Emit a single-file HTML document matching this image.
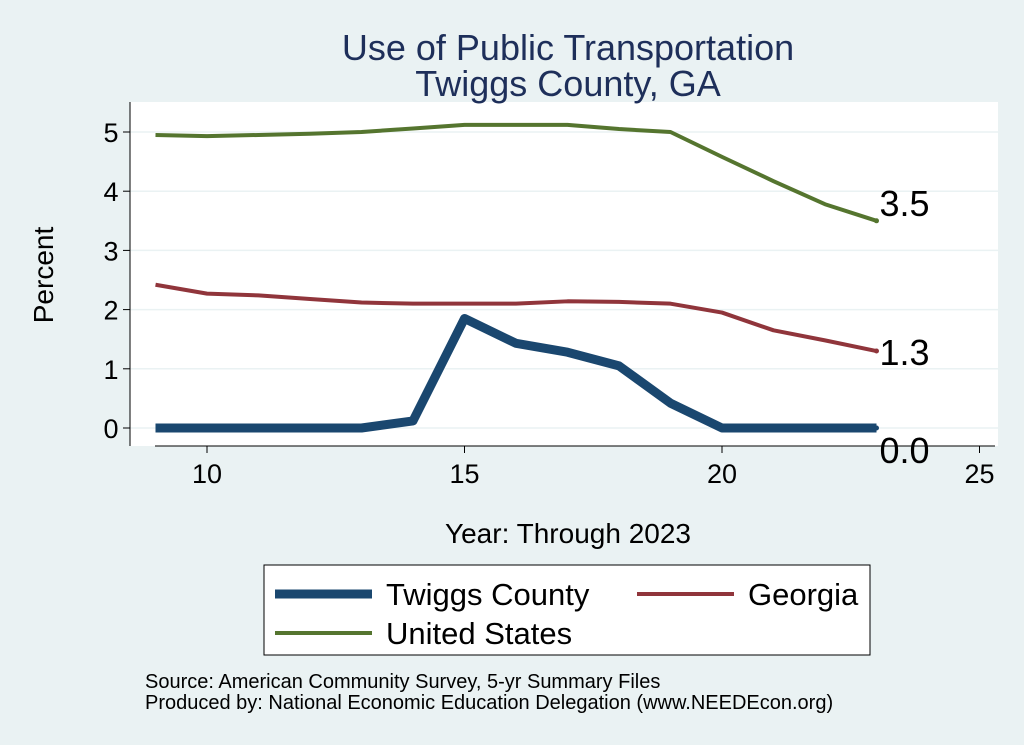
<!DOCTYPE html>
<html><head><meta charset="utf-8">
<style>
body{margin:0;background:#EAF2F3;}
svg{display:block;font-family:"Liberation Sans",sans-serif;}
</style></head>
<body>
<svg id="chart" width="1024" height="745">
<rect x="0" y="0" width="1024" height="745" fill="#EAF2F3"/>
<rect x="130" y="102" width="868" height="344" fill="#fff"/>
<text x="568" y="60" font-size="36" fill="#1E2F5A" text-anchor="middle">Use of Public Transportation</text>
<text x="568" y="96" font-size="36" fill="#1E2F5A" text-anchor="middle">Twiggs County, GA</text>
<g id="grid"></g>
<g id="axes"></g>
<g id="series"></g>
<text x="568" y="543" font-size="28" text-anchor="middle">Year: Through 2023</text>
<text transform="translate(53,275) rotate(-90)" font-size="28" text-anchor="middle">Percent</text>
<g>
<rect x="264" y="565" width="606" height="90" fill="#fff" stroke="#000" stroke-width="1"/>
<line x1="275" y1="594" x2="372" y2="594" stroke="#1A476F" stroke-width="9"/>
<text x="386" y="605" font-size="31">Twiggs County</text>
<line x1="637" y1="594" x2="734" y2="594" stroke="#90353B" stroke-width="4"/>
<text x="748" y="605" font-size="31">Georgia</text>
<line x1="275" y1="633" x2="372" y2="633" stroke="#55752F" stroke-width="4"/>
<text x="386" y="644" font-size="31">United States</text>
</g>
<text x="145" y="688" font-size="20">Source: American Community Survey, 5-yr Summary Files</text>
<text x="145" y="709" font-size="20">Produced by: National Economic Education Delegation (www.NEEDEcon.org)</text>
</svg>
<script>
const years=[9,10,11,12,13,14,15,16,17,18,19,20,21,22,23];
const usVals=[4.95,4.93,4.95,4.97,5.0,5.06,5.12,5.12,5.12,5.05,5.0,4.58,4.17,3.78,3.5];
const gaVals=[2.42,2.27,2.24,2.18,2.12,2.1,2.1,2.1,2.14,2.13,2.1,1.95,1.65,1.48,1.3];
const twVals=[0,0,0,0,0,0.12,1.85,1.43,1.28,1.05,0.42,0,0,0,0];
const xTicks=[10,15,20,25];
const yTicks=[0,1,2,3,4,5];
const NS="http://www.w3.org/2000/svg";
const xS=v=>207+(v-10)*51.5;
const yS=v=>428-v*59.2;
function mk(tag,attrs,parent,txt){const e=document.createElementNS(NS,tag);for(const k in attrs)e.setAttribute(k,attrs[k]);if(txt!==undefined)e.textContent=txt;parent.appendChild(e);return e;}
const grid=document.getElementById('grid'),axes=document.getElementById('axes'),ser=document.getElementById('series');
yTicks.forEach(t=>{
 const g=mk('line',{x1:130,x2:998,y1:yS(t),y2:yS(t),stroke:'#EAF2F3','stroke-width':1.5},grid);
 
 
 const tk=mk('line',{x1:123,x2:130,y1:yS(t),y2:yS(t),stroke:'#000'},axes);
 
 
 const l=mk('text',{x:111,y:yS(t)+10,'font-size':27,'text-anchor':'middle'},axes,String(t));
 
 
});
const ya=mk('line',{x1:130,x2:130,y1:102,y2:446,stroke:'#000'},axes);


const xa=mk('line',{x1:155,x2:995,y1:446,y2:446,stroke:'#000'},axes);


xTicks.forEach(t=>{
 const tk=mk('line',{x1:xS(t),x2:xS(t),y1:446,y2:453,stroke:'#000'},axes);
 
 
 const l=mk('text',{x:xS(t),y:483,'font-size':27,'text-anchor':'middle'},axes,String(t));
 
 
});
function line(vals,color,w,name,lblDy){
 const d=vals.map((v,i)=>(i?'L':'M')+xS(years[i])+','+yS(v)).join(' ');
 const p=mk('path',{d:d,fill:'none',stroke:color,'stroke-width':w,'stroke-linejoin':'round'},ser);
 
 
 const last=vals[vals.length-1];
 const lx=xS(years[years.length-1]);
 const c=mk('circle',{cx:lx,cy:yS(last),r:2.5,fill:color},ser);
 
 
 const t=mk('text',{x:lx+3,y:yS(last)+lblDy,'font-size':36},ser,last.toFixed(1));
 
 
}
line(usVals,'#55752F',4,'united-states',-5);
line(gaVals,'#90353B',4,'georgia',14);
line(twVals,'#1A476F',9,'twiggs-county',35);
</script>
</body></html>
